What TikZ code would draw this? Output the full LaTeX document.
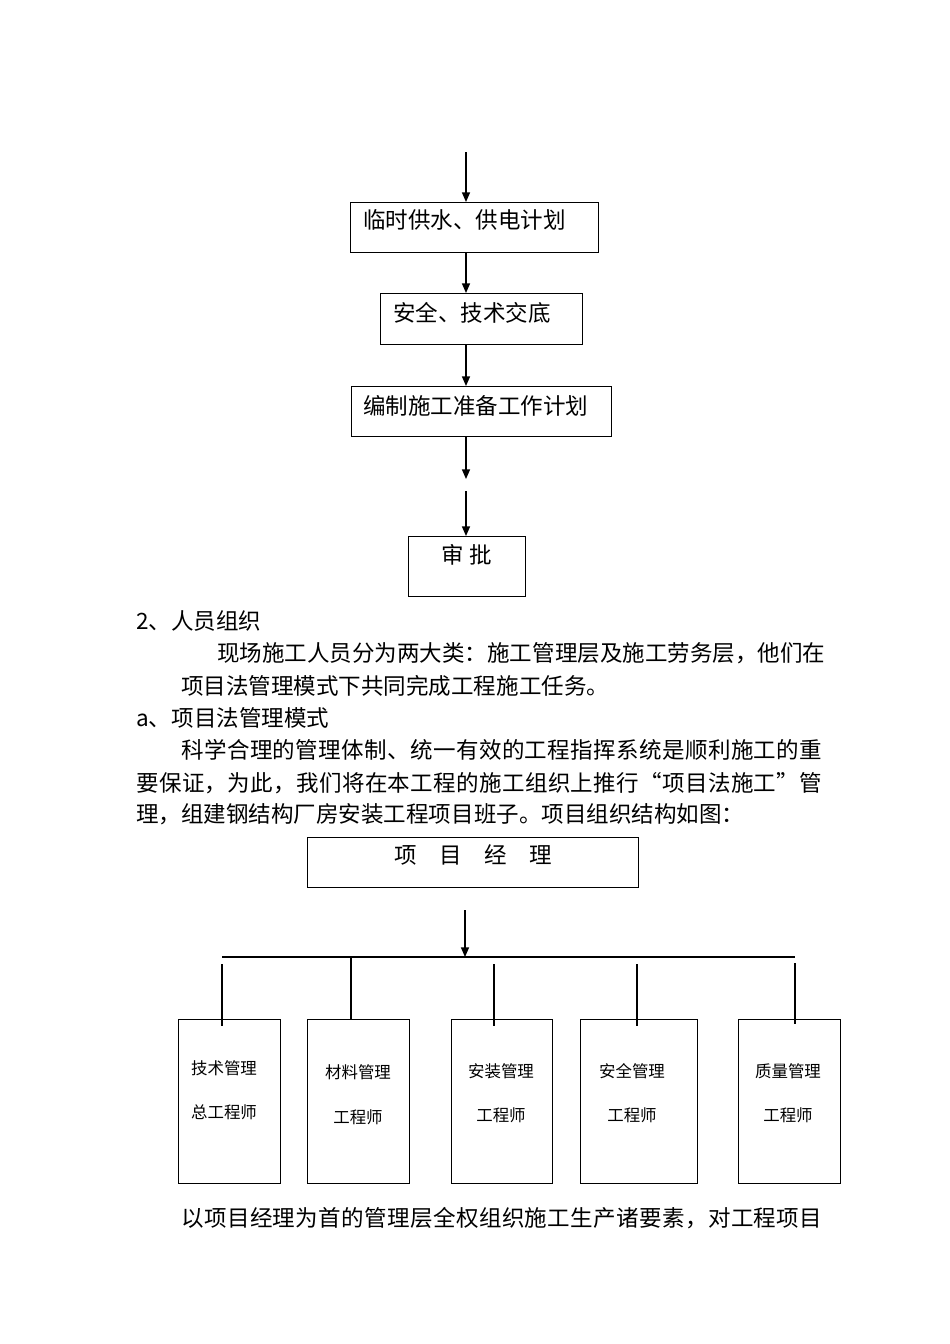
\documentclass[tikz,border=0pt]{standalone}
\usepackage{fontspec}
\usetikzlibrary{arrows.meta}
\newfontfamily\cjk{Noto Sans CJK SC}
\newdimen\pxu
\pxu=0.6263pt
\tikzset{
  box/.style={draw,line width=0.8pt,inner sep=0pt,anchor=north west},
  big text/.style={font=\cjk\fontsize{14.1}{17}\selectfont,inner sep=0pt},
  small text/.style={font=\cjk\fontsize{10.3}{12}\selectfont,inner sep=0pt},
  flow arrow/.style={line width=0.8pt,-{Triangle[length=6pt,width=5pt]}},
  org line/.style={line width=0.7pt},
}

\begin{document}
\begin{tikzpicture}[x=0.6263pt,y=-0.6263pt]
\useasboundingbox (0,0) rectangle (950,1344);
% flow of the preparation work
\node[box,minimum width={248*\pxu},minimum height={50*\pxu}] (supply) at (350,202) {};
\node[box,minimum width={202*\pxu},minimum height={51*\pxu}] (brief) at (380,293) {};
\node[box,minimum width={260*\pxu},minimum height={50*\pxu}] (plan) at (351,386) {};
\node[box,minimum width={117*\pxu},minimum height={60*\pxu}] (approve) at (408,536) {};
\node[big text,anchor=west] (supply text) at (363,220) {临时供水、供电计划};
\node[big text,anchor=west] (brief text) at (393,313) {安全、技术交底};
\node[big text,anchor=west] (plan text) at (363,406) {编制施工准备工作计划};
\node[big text] (approve text) at (467,555) {审 批};
\coordinate (flow top) at (466,152);
\coordinate (gap top) at (466,479);
\coordinate (gap bottom) at (466,491);
\draw[flow arrow] (flow top) -- (flow top |- supply.north);
\draw[flow arrow] (flow top |- supply.south) -- (flow top |- brief.north);
\draw[flow arrow] (flow top |- brief.south) -- (flow top |- plan.north);
\draw[flow arrow] (flow top |- plan.south) -- (gap top);
\draw[flow arrow] (gap bottom) -- (gap bottom |- approve.north);

% text of the page
\foreach[count=\k] \x/\y/\sp/\txt in {
  136/621/0/{2、人员组织},
  217/653/0/{现场施工人员分为两大类：施工管理层及施工劳务层，他们在},
  181/686/0/{项目法管理模式下共同完成工程施工任务。},
  136/718/0/{a、项目法管理模式},
  181/750/1.75/{科学合理的管理体制、统一有效的工程指挥系统是顺利施工的重},
  136/783/1.6/{要保证，为此，我们将在本工程的施工组织上推行“项目法施工”管},
  136/814/0/{理，组建钢结构厂房安装工程项目班子。项目组织结构如图：},
  181/1218/1.75/{以项目经理为首的管理层全权组织施工生产诸要素，对工程项目}}
{
  \node[big text,anchor=west] (line\k) at (\x,\y) {\addfontfeature{LetterSpace=\sp}\txt};
}

% project organisation
\node[box,minimum width={331*\pxu},minimum height={50*\pxu}] (manager) at (307,837) {};
\node[big text] (manager text) at (473,855) {项　目　经　理};
\coordinate (manager arrow) at (465,910);
\coordinate (bus left) at (222,957);
\coordinate (bus right) at (795,957);
\draw[org line] (bus left) -- (bus right);
\draw[flow arrow] (manager arrow) -- (manager arrow |- bus left);
\foreach[count=\k] \xa/\w/\dx/\da/\db/\tx/\ta/\ya/\tb/\yb in {
  178/102/222/964/1026/224/{技术管理}/1068/{总工程师}/1112,
  307/102/351/957/1019/358/{材料管理}/1072/{工程师}/1117,
  451/101/494/964/1026/501/{安装管理}/1071/{工程师}/1115,
  580/117/637/964/1026/632/{安全管理}/1071/{工程师}/1115,
  738/102/795/963/1024/788/{质量管理}/1071/{工程师}/1115}
{
  \node[box,minimum width={\w*\pxu},minimum height={164*\pxu}] (dept\k) at (\xa,1019) {};
  \node[small text] (dept\k head) at (\tx,\ya) {\ta};
  \node[small text] (dept\k role) at (\tx,\yb) {\tb};
  \coordinate (drop\k) at (\dx,\da);
  \draw[org line] (drop\k) -- (\dx,\db);
}
\end{tikzpicture}
\end{document}
